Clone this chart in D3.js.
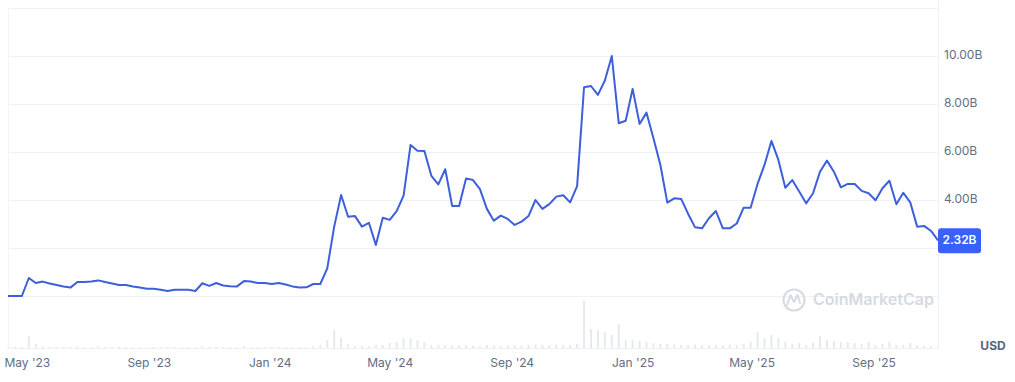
<!DOCTYPE html>
<html>
<head>
<meta charset="utf-8">
<script src="https://cdn.jsdelivr.net/npm/d3@7"></script>
<style>
  body { margin: 0; background: #fff; }
  svg { display: block; font-family: Inter, "Noto Sans", sans-serif; }
</style>
</head>
<body>
<div id="chart"></div>
<script>
// weekly points, first one on this date
var startDate = new Date(2023, 3, 12);

// market cap, billions USD
var priceValues = [
  0.00, 0.00, 0.00, 0.75, 0.54, 0.60, 0.52, 0.46, 0.40, 0.35,
  0.58, 0.58, 0.60, 0.65, 0.58, 0.52, 0.46, 0.46, 0.40, 0.35,
  0.30, 0.30, 0.26, 0.21, 0.26, 0.26, 0.26, 0.21, 0.53, 0.42,
  0.54, 0.44, 0.41, 0.40, 0.62, 0.60, 0.54, 0.54, 0.50, 0.54,
  0.48, 0.40, 0.35, 0.36, 0.50, 0.50, 1.15, 2.89, 4.21, 3.30,
  3.33, 2.89, 3.05, 2.13, 3.26, 3.17, 3.54, 4.18, 6.29, 6.05,
  6.04, 5.01, 4.65, 5.28, 3.75, 3.75, 4.90, 4.83, 4.45, 3.63,
  3.14, 3.35, 3.21, 2.96, 3.10, 3.33, 4.00, 3.63, 3.83, 4.14,
  4.20, 3.90, 4.58, 8.70, 8.75, 8.38, 8.98, 10.00, 7.20, 7.30,
  8.63, 7.17, 7.64, 6.57, 5.46, 3.89, 4.07, 4.04, 3.42, 2.86,
  2.82, 3.24, 3.54, 2.82, 2.82, 3.02, 3.68, 3.68, 4.67, 5.46,
  6.46, 5.67, 4.51, 4.83, 4.35, 3.86, 4.28, 5.18, 5.64, 5.18,
  4.53, 4.67, 4.67, 4.38, 4.28, 3.99, 4.49, 4.80, 3.82, 4.30,
  3.90, 2.89, 2.92, 2.71, 2.32
];

// volume, billions USD
var volumeValues = [
  0.1, 0.1, 0.1, 1.2, 0.4, 0.15, 0.1, 0.15, 0.1, 0.1,
  0.15, 0.1, 0.1, 0.15, 0.1, 0.1, 0.15, 0.1, 0.1, 0.1,
  0.1, 0.1, 0.1, 0.1, 0.1, 0.1, 0.1, 0.1, 0.15, 0.1,
  0.15, 0.1, 0.1, 0.1, 0.15, 0.1, 0.1, 0.1, 0.1, 0.1,
  0.1, 0.1, 0.1, 0.1, 0.15, 0.3, 0.8, 1.8, 1.0, 0.4,
  0.2, 0.2, 0.2, 0.3, 0.3, 0.5, 0.6, 1.0, 1.0, 0.8,
  0.6, 0.3, 0.3, 0.3, 0.25, 0.3, 0.3, 0.25, 0.2, 0.3,
  0.25, 0.2, 0.25, 0.3, 0.25, 0.3, 0.35, 0.3, 0.3, 0.35,
  0.3, 0.3, 0.4, 4.7, 1.9, 1.8, 1.6, 1.3, 2.4, 0.8,
  0.8, 0.7, 0.6, 0.5, 0.4, 0.4, 0.35, 0.3, 0.3, 0.35,
  0.3, 0.3, 0.3, 0.3, 0.35, 0.3, 0.4, 0.6, 1.6, 1.0,
  1.3, 1.0, 0.6, 0.4, 0.5, 0.3, 0.5, 1.2, 0.8, 0.7,
  0.6, 0.6, 0.5, 0.4, 0.6, 0.3, 0.4, 0.6, 0.3, 0.3,
  0.5, 0.3, 0.2, 0.2, 0.1
];

var gridValues = [0, 2, 4, 6, 8, 10, 12];
var labelValues = [4, 6, 8, 10];
var lastLabel = "2.32B";
var currency = "USD";

var width = 1015, height = 382;
var plotLeft = 8, plotRight = 938;

var dates = priceValues.map(function(d, i) { return d3.timeDay.offset(startDate, i * 7); });
var data = priceValues.map(function(v, i) { return {date: dates[i], value: v, volume: volumeValues[i]}; });

var x = d3.scaleTime()
  .domain([dates[0], dates[dates.length - 1]])
  .range([plotLeft, plotRight]);

var y = d3.scaleLinear().domain([0, 12]).range([296, 8]);
var yVol = d3.scaleLinear().domain([0, 4.8]).range([348, 300]);

var svg = d3.select("#chart").append("svg")
  .attr("width", width)
  .attr("height", height);

// grid
svg.append("g").selectAll("line")
  .data(gridValues)
  .enter().append("line")
  .attr("x1", plotLeft)
  .attr("x2", plotRight)
  .attr("y1", function(d) { return Math.round(y(d)) + 0.5; })
  .attr("y2", function(d) { return Math.round(y(d)) + 0.5; })
  .attr("stroke", "#eff2f5");

// frame round the plot and volume panel
svg.append("line")
  .attr("x1", plotLeft + 0.5).attr("x2", plotLeft + 0.5)
  .attr("y1", 8).attr("y2", 348)
  .attr("stroke", "#f3f5f8");
svg.append("line")
  .attr("x1", plotRight + 0.5).attr("x2", plotRight + 0.5)
  .attr("y1", 0).attr("y2", 348)
  .attr("stroke", "#eff2f5");
svg.append("line")
  .attr("x1", plotLeft).attr("x2", plotRight)
  .attr("y1", 348.5).attr("y2", 348.5)
  .attr("stroke", "#eff2f5");

// watermark
var wm = svg.append("g").attr("fill", "none").attr("stroke", "#d5dae3");
wm.append("circle").attr("cx", 794).attr("cy", 300).attr("r", 10.5).attr("stroke-width", 2);
wm.append("path")
  .attr("d", "M787,305 L790.5,295 L794,302 L797.5,295 L800,303")
  .attr("stroke-width", 2).attr("stroke-linejoin", "round").attr("stroke-linecap", "round");
svg.append("text")
  .attr("x", 813).attr("y", 301)
  .attr("dominant-baseline", "middle")
  .attr("font-size", 16).attr("font-weight", 600)
  .attr("fill", "#d5dae3")
  .text("CoinMarketCap");

// volume bars
svg.append("g").selectAll("rect")
  .data(data)
  .enter().append("rect")
  .attr("x", function(d) { return x(d.date) - 1; })
  .attr("width", 2)
  .attr("y", function(d) { return yVol(d.volume); })
  .attr("height", function(d) { return 348 - yVol(d.volume); })
  .attr("fill", "#e6e9ef");

// price line
var line = d3.line()
  .x(function(d) { return x(d.date); })
  .y(function(d) { return y(d.value); });

svg.append("path")
  .datum(data)
  .attr("d", line)
  .attr("fill", "none")
  .attr("stroke", "#3d5fdc")
  .attr("stroke-width", 2)
  .attr("stroke-linejoin", "round");

// y labels
svg.append("g").selectAll("text")
  .data(labelValues)
  .enter().append("text")
  .attr("x", 944)
  .attr("y", function(d) { return y(d); })
  .attr("dominant-baseline", "middle")
  .attr("font-size", 12)
  .attr("fill", "#616e85")
  .text(function(d) { return d3.format(".2f")(d) + "B"; });

// last value badge
var lastY = y(priceValues[priceValues.length - 1]);
svg.append("rect")
  .attr("x", plotRight)
  .attr("y", lastY - 12)
  .attr("width", 43)
  .attr("height", 25)
  .attr("rx", 3)
  .attr("fill", "#3861fb");
svg.append("text")
  .attr("x", plotRight + 21.5)
  .attr("y", lastY + 0.5)
  .attr("text-anchor", "middle")
  .attr("dominant-baseline", "middle")
  .attr("font-size", 12)
  .attr("font-weight", 600)
  .attr("fill", "#fff")
  .text(lastLabel);

// x axis labels
var xAxis = d3.axisBottom(x)
  .ticks(d3.timeMonth.every(4))
  .tickFormat(d3.timeFormat("%b '%y"))
  .tickSize(0)
  .tickPadding(0);

var gx = svg.append("g")
  .attr("transform", "translate(0,358)")
  .call(xAxis);
gx.select(".domain").remove();
gx.selectAll("text")
  .attr("font-family", "Inter, 'Noto Sans', sans-serif")
  .attr("font-size", 12)
  .attr("fill", "#616e85")
  .attr("dy", "0.71em");

svg.append("text")
  .attr("x", 993)
  .attr("y", 347)
  .attr("text-anchor", "middle")
  .attr("dominant-baseline", "middle")
  .attr("font-size", 12)
  .attr("font-weight", 700)
  .attr("fill", "#58667e")
  .text(currency);
</script>
</body>
</html>
